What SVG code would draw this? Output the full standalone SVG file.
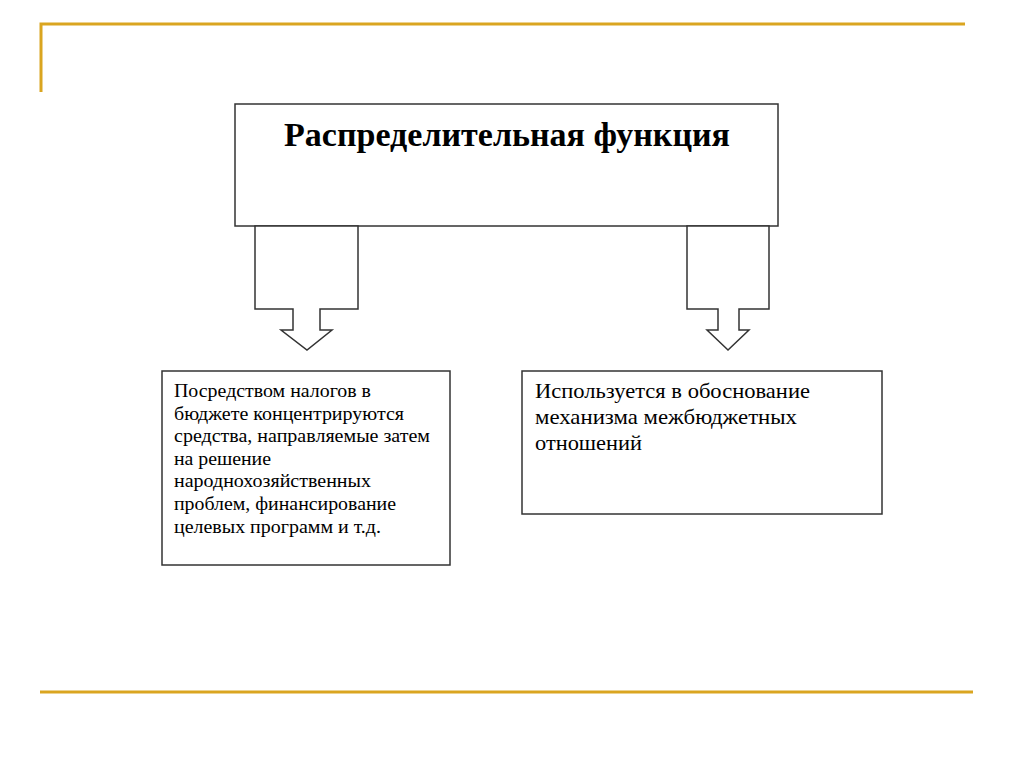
<svg xmlns="http://www.w3.org/2000/svg" width="1024" height="767" viewBox="0 0 1024 767">
<style>
.box{fill:#fff;stroke:#333;stroke-width:1.5}
.frame{stroke:#DAA520;stroke-width:3;fill:none}
.t{font-family:"Liberation Serif","Times New Roman",serif;fill:#000}
</style>
<rect width="1024" height="767" fill="#fff"/>
<path class="frame" d="M41 92 V24 H965"/>
<line class="frame" x1="40" y1="692" x2="973" y2="692"/>
<g id="main">
<rect class="box" x="235" y="104" width="543" height="122"/>
<text class="t" x="284" y="146" font-size="34" font-weight="bold" textLength="446" lengthAdjust="spacingAndGlyphs">Распределительная функция</text>
</g>
<g id="connectors">
<path class="box" d="M255 226 H358 V309 H320 V330 H332 L307 350 L281 330 H293 V309 H255 Z"/>
<path class="box" d="M687 226 H769 V309 H739 V330 H749 L728 350 L707 330 H718 V309 H687 Z"/>
</g>
<g id="left">
<rect class="box" x="162" y="371" width="288" height="194"/>
<g class="t" font-size="19">
<text x="174" y="397" textLength="197" lengthAdjust="spacingAndGlyphs">Посредством налогов в</text>
<text x="174" y="419.6" textLength="230" lengthAdjust="spacingAndGlyphs">бюджете концентрируются</text>
<text x="174" y="442.2" textLength="256" lengthAdjust="spacingAndGlyphs">средства, направляемые затем</text>
<text x="174" y="464.8" textLength="97" lengthAdjust="spacingAndGlyphs">на решение</text>
<text x="174" y="487.4" textLength="197" lengthAdjust="spacingAndGlyphs">народнохозяйственных</text>
<text x="174" y="510" textLength="222" lengthAdjust="spacingAndGlyphs">проблем, финансирование</text>
<text x="174" y="532.6" textLength="207" lengthAdjust="spacingAndGlyphs">целевых программ и т.д.</text>
</g>
</g>
<g id="right">
<rect class="box" x="522" y="371" width="360" height="143"/>
<g class="t" font-size="21">
<text x="535" y="398" textLength="275" lengthAdjust="spacingAndGlyphs">Используется в обоснование</text>
<text x="535" y="424" textLength="262" lengthAdjust="spacingAndGlyphs">механизма межбюджетных</text>
<text x="535" y="450" textLength="107" lengthAdjust="spacingAndGlyphs">отношений</text>
</g>
</g>
</svg>
